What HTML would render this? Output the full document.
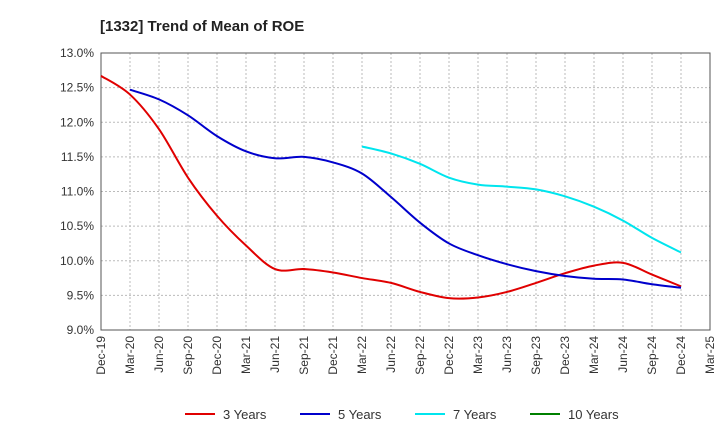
<!DOCTYPE html>
<html><head><meta charset="utf-8"><style>
body{margin:0;background:#fff;font-family:"Liberation Sans",Arial,sans-serif}
svg text{font-family:"Liberation Sans",Arial,sans-serif}
</style></head><body>
<svg width="720" height="440" viewBox="0 0 720 440">
<text x="100" y="31" font-size="15" font-weight="bold" fill="#222">[1332]  Trend of Mean of ROE</text>
<g id="grid"></g><g id="axes"></g><g id="series"></g>
<g id="legend"></g>
</svg>
<script>
const xLabels=["Dec-19","Mar-20","Jun-20","Sep-20","Dec-20","Mar-21","Jun-21","Sep-21","Dec-21","Mar-22","Jun-22","Sep-22","Dec-22","Mar-23","Jun-23","Sep-23","Dec-23","Mar-24","Jun-24","Sep-24","Dec-24","Mar-25"];
const yTicks=[9.0,9.5,10.0,10.5,11.0,11.5,12.0,12.5,13.0];
const seriesNames=["3 Years","5 Years","7 Years","10 Years"];
const seriesColors=["#e00000","#0000cc","#00e5ee","#008000"];
const seriesStart=[0,1,9,0];
const s3=[12.67,12.4,11.9,11.2,10.65,10.22,9.88,9.88,9.83,9.75,9.68,9.55,9.46,9.47,9.55,9.68,9.82,9.93,9.97,9.8,9.63];
const s5=[12.47,12.33,12.1,11.8,11.58,11.48,11.5,11.42,11.26,10.92,10.55,10.25,10.08,9.95,9.85,9.78,9.74,9.73,9.66,9.61];
const s7=[11.65,11.55,11.4,11.2,11.1,11.07,11.03,10.93,10.78,10.58,10.33,10.12];
const s10=[];
const seriesData=[s3,s5,s7,s10];
const X0=101,X1=710,Y0=330,Y1=53;
const xs=i=>X0+(X1-X0)*i/(xLabels.length-1);
const ys=v=>Y0-(Y0-Y1)*(v-9)/4;
const NS="http://www.w3.org/2000/svg";
function mk(t,a,p){const e=document.createElementNS(NS,t);for(const k in a)e.setAttribute(k,a[k]);p.appendChild(e);return e;}
const grid=document.getElementById('grid'),axes=document.getElementById('axes'),ser=document.getElementById('series'),leg=document.getElementById('legend');
yTicks.forEach(v=>{const y=ys(v);
 const l=mk('line',{x1:X0,x2:X1,y1:y,y2:y,stroke:'#bbb','stroke-dasharray':'2,2'},grid);
 
 
 const t=mk('text',{x:X0-7,y:y+4,'text-anchor':'end','font-size':12,fill:'#333'},axes);t.textContent=v.toFixed(1)+'%';
 
 });
xLabels.forEach((s,i)=>{const x=xs(i);
 if(i>0&&i<xLabels.length-1){const l=mk('line',{x1:x,x2:x,y1:Y1,y2:Y0,stroke:'#bbb','stroke-dasharray':'2,2'},grid);
 
 }
 const t=mk('text',{transform:`translate(${x+4},${Y0+6}) rotate(-90)`,'text-anchor':'end','font-size':12,fill:'#333'},axes);t.textContent=s;
 
 });
const fr=mk('rect',{x:X0,y:Y1,width:X1-X0,height:Y0-Y1,fill:'none',stroke:'#555'},axes);


seriesData.forEach((d,k)=>{if(d.length<2)return;
 const p=d.map((v,i)=>[xs(seriesStart[k]+i),ys(v)]);
 let s=`M${p[0][0]},${p[0][1]}`;
 for(let i=0;i<p.length-1;i++){const a=p[i-1]||p[i],b=p[i],c=p[i+1],e=p[i+2]||c;
  s+=`C${b[0]+(c[0]-a[0])/6},${b[1]+(c[1]-a[1])/6} ${c[0]-(e[0]-b[0])/6},${c[1]-(e[1]-b[1])/6} ${c[0]},${c[1]}`;}
 const pa=mk('path',{d:s,fill:'none',stroke:seriesColors[k],'stroke-width':2},ser);
 
 });
const lx=[185,300,415,530];
seriesNames.forEach((n,k)=>{
 const l=mk('line',{x1:lx[k],x2:lx[k]+30,y1:414,y2:414,stroke:seriesColors[k],'stroke-width':2},leg);
 
 
 const t=mk('text',{x:lx[k]+38,y:419,'font-size':13,fill:'#333'},leg);t.textContent=n;
 
 });
</script>
</body></html>
